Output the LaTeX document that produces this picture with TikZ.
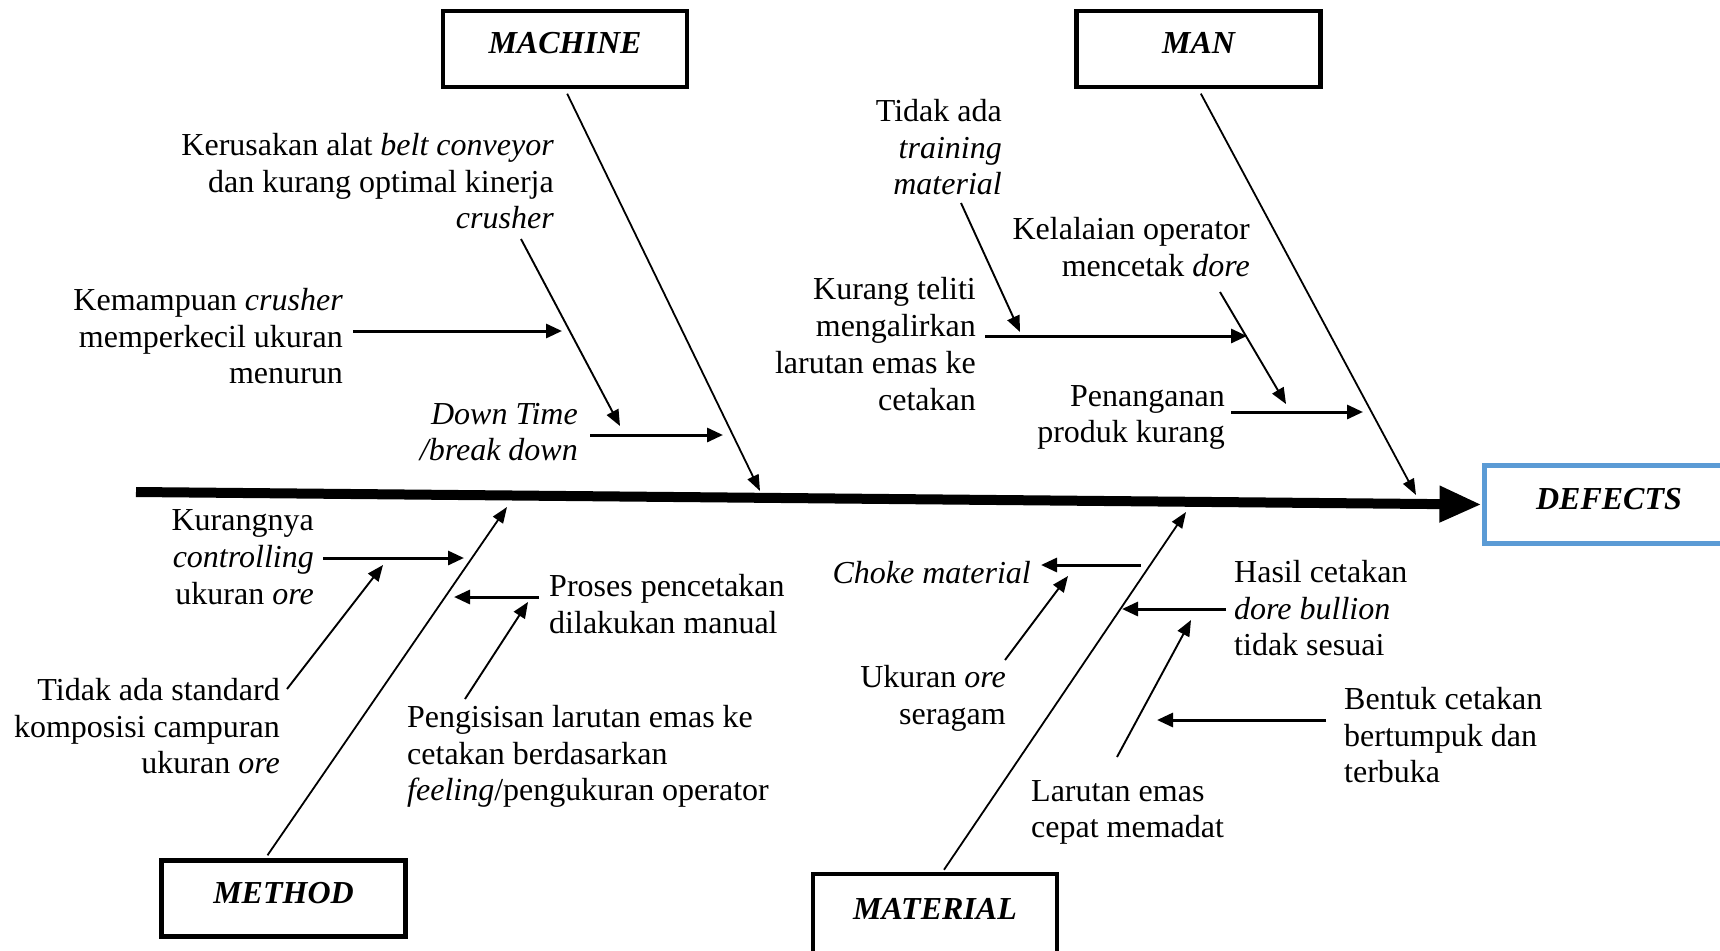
\documentclass[tikz,border=0pt]{standalone}
\usepackage{fontspec}
\setmainfont{Liberation Serif}
\usetikzlibrary{arrows.meta}
\definecolor{defblue}{HTML}{5B9BD5}
\begin{document}
\begin{tikzpicture}[x=1pt,y=-1pt,
  txt/.style={font=\fontsize{32}{36.8}\selectfont, inner sep=0pt, yshift=-5.5pt,
    execute at begin node=\strut, execute at end node=\strut},
  tr/.style={txt, align=right, anchor=east},
  tl/.style={txt, align=left, anchor=west},
  catbox/.style={draw, line width=4.5pt, minimum width=244pt, minimum height=76pt,
    inner sep=0pt, font=\fontsize{32}{36.8}\selectfont\bfseries\itshape,
    text height=22pt, text depth=12pt},
  bone/.style={line width=1.8pt, -{Triangle[length=16pt,width=12pt]}},
  sub/.style={line width=3pt, -{Triangle[length=16pt,width=14pt]}},
  subd/.style={line width=1.9pt, -{Triangle[length=16pt,width=13pt]}},
]
\useasboundingbox (0,0) rectangle (1720,950);

% category boxes
\node[catbox] (machine) at (565,49) {MACHINE};
\node[catbox] (man) at (1198.5,49) {MAN};
\node[catbox] (method) at (283.5,898.5) {METHOD};
\node[catbox, minimum height=84pt, text depth=15pt] (material) at (935,916) {MATERIAL};
\node[catbox, draw=defblue, line width=5pt, minimum width=250pt, minimum height=78pt]
  (defects) at (1609,504.5) {DEFECTS};

% spine
\coordinate (spL) at (136,492);
\draw[line width=10pt, -{Triangle[length=42pt,width=34pt]}] (spL) -- (defects.west);

% main bones
\coordinate (mcH) at (760,491);
\coordinate (mnH) at (1416,495);
\coordinate (meH) at (507,507);
\coordinate (maH) at (1186,512);
\draw[bone, shorten <=5pt] (machine.south) -- (mcH);
\draw[bone, shorten <=5pt] (man.south) -- (mnH);
\draw[bone] ([xshift=-16pt,yshift=3pt]method.north) -- (meH);
\draw[bone] ([xshift=9pt,yshift=2pt]material.north) -- (maH);

% machine causes
\node[tr] (t1) at (554,181) {Kerusakan alat \textit{belt conveyor}\\dan kurang optimal kinerja\\\textit{crusher}};
\node[tr] (t2) at (343,336) {Kemampuan \textit{crusher}\\memperkecil ukuran\\menurun};
\node[tr] (t3) at (578,432) {\textit{Down Time}\\\textit{/break down}};

% man causes
\node[tr] (t4) at (1002,147) {Tidak ada\\\textit{training}\\\textit{material}};
\node[tr] (t5) at (976,344) {Kurang teliti\\mengalirkan\\larutan emas ke\\cetakan};
\node[tr] (t6) at (1250,247) {Kelalaian operator\\mencetak \textit{dore}};
\node[tr] (t7) at (1225,414) {Penanganan\\produk kurang};

% method causes
\node[tr] (t8) at (314,557) {Kurangnya\\\textit{controlling}\\ukuran \textit{ore}};
\node[tr] (t9) at (280,726) {Tidak ada standard\\komposisi campuran\\ukuran \textit{ore}};
\node[tl] (t10) at (549,604) {Proses pencetakan\\dilakukan manual};
\node[tl] (t11) at (407,753) {Pengisisan larutan emas ke\\cetakan berdasarkan\\\textit{feeling}/pengukuran operator};

% material causes
\node[tr] (t12) at (1031,571) {\textit{Choke material}};
\node[tr] (t13) at (1006,695) {Ukuran \textit{ore}\\seragam};
\node[tl] (t14) at (1234,608) {Hasil cetakan\\\textit{dore bullion}\\tidak sesuai};
\node[tl] (t15) at (1031,809) {Larutan emas\\cepat memadat};
\node[tl] (t16) at (1344,735) {Bentuk cetakan\\bertumpuk dan\\terbuka};

% arrow end points
\coordinate (a1s) at (521,239);  \coordinate (a1e) at (620,426);
\coordinate (a2s) at (353,331);  \coordinate (a2e) at (562,331);
\coordinate (a3s) at (590,435);  \coordinate (a3e) at (723,435);
\coordinate (a4s) at (961,203);  \coordinate (a4e) at (1020,332);
\coordinate (a5s) at (985,336);  \coordinate (a5e) at (1247,336);
\coordinate (a6s) at (1220,292); \coordinate (a6e) at (1286,404);
\coordinate (a7s) at (1231,412); \coordinate (a7e) at (1363,412);
\coordinate (a8s) at (323,558);  \coordinate (a8e) at (464,558);
\coordinate (a9s) at (287,689);  \coordinate (a9e) at (383,565);
\coordinate (a10s) at (539,597); \coordinate (a10e) at (454,597);
\coordinate (a11s) at (465,699); \coordinate (a11e) at (528,602);
\coordinate (a12s) at (1141,565); \coordinate (a12e) at (1041,565);
\coordinate (a13s) at (1005,660); \coordinate (a13e) at (1068,576);
\coordinate (a14s) at (1226,609); \coordinate (a14e) at (1122,609);
\coordinate (a15s) at (1117,757); \coordinate (a15e) at (1191,620);
\coordinate (a16s) at (1326,720); \coordinate (a16e) at (1157,720);

% horizontal cause arrows
\foreach \i in {2,3,5,7,8,10,12,14,16}
  \draw[sub] (a\i s) -- (a\i e);
% slanted cause arrows
\foreach \i in {1,4,6,9,11,13,15}
  \draw[subd] (a\i s) -- (a\i e);
\end{tikzpicture}
\end{document}
